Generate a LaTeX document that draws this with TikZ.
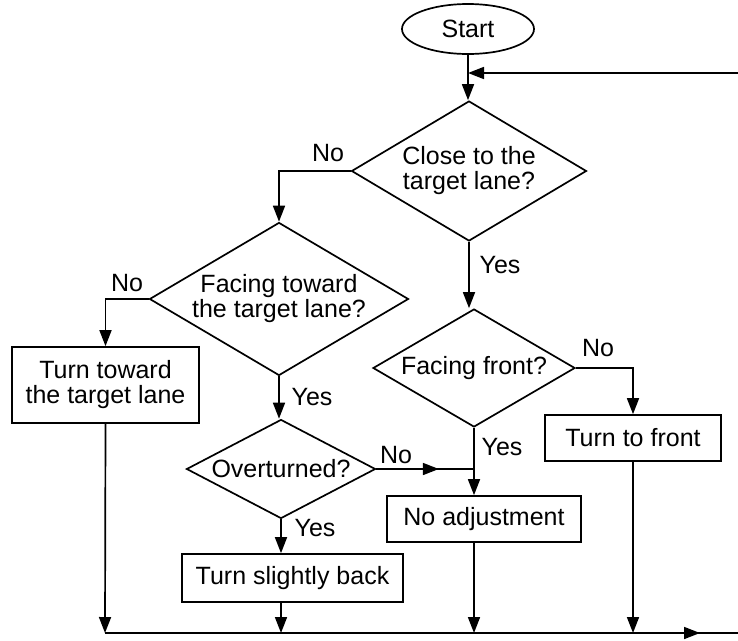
\documentclass[tikz,border=0pt]{standalone}
\usepackage{fontspec}
\setmainfont{Liberation Sans}
\usetikzlibrary{shapes.geometric,arrows.meta,calc}
\begin{document}
\begin{tikzpicture}[x=1pt,y=-1pt,
  every node/.style={font=\fontsize{25}{25}\selectfont},
  flow/.style={line width=1.7pt},
  arr/.style={flow,-{Triangle[length=16pt,width=12pt]}},
  decision/.style={draw,line width=1.7pt,diamond,inner sep=0pt,align=center},
  process/.style={draw,line width=1.7pt,rectangle,inner sep=0pt,align=center},
  terminal/.style={draw,line width=1.7pt,ellipse,inner sep=0pt},
  lbl/.style={inner sep=0pt}]
\useasboundingbox (0,0) rectangle (738,640);

% blocks
\node[terminal,minimum width=132pt,minimum height=50pt] (start) at (468,29) {Start};
\node[decision,aspect=1.68,minimum width=235pt,minimum height=140pt] (d1) at (469,171) {Close to the\\target lane?};
\node[decision,aspect=1.69,minimum width=259pt,minimum height=153pt] (d2) at (279,299) {Facing toward\\the target lane?};
\node[process,minimum width=187pt,minimum height=76pt] (turnlane) at (105.5,385) {Turn toward\\the target lane};
\node[decision,aspect=1.71,minimum width=202pt,minimum height=118pt] (d3) at (474,368) {Facing front?};
\node[process,minimum width=176pt,minimum height=46pt] (front) at (633,438) {Turn to front};
\node[decision,aspect=1.91,minimum width=189pt,minimum height=99pt] (d4) at (281,469) {Overturned?};
\node[process,minimum width=194pt,minimum height=46pt] (noadj) at (484,519) {No adjustment};
\node[process,minimum width=221pt,minimum height=48pt] (back) at (292.5,578) {Turn slightly back};

% helper points
\coordinate (loop) at (738,73);
\coordinate (bl) at (105,633);
\coordinate (br) at (738,633);
\coordinate (btip) at (700,633);
\coordinate (join) at (d3.south |- d4.east);
\coordinate (mid4) at ($(d4.east)!0.64!(join)$);

% connectors
\draw[arr] (start) -- (start |- d1.north);
\draw[arr] (loop) -- (loop -| start);
\draw[arr] (d1.west) -| (d2.north);
\draw[arr] (d2.west) -| (turnlane.north);
\draw[arr] (turnlane.south) -- (bl);
\draw[arr] (d2.south) -- (d2.south |- d4.north);
\draw[arr] (d4.south) -- (d4.south |- back.north);
\draw[arr] (back.south -| d4.south) -- (d4.south |- bl);
\draw[arr] (d1.south) -- (d1.south |- d3.north);
\draw[arr] (d3.east) -| (front.north);
\draw[arr] (front.south) -- (front.south |- bl);
\draw[arr] (d3.south) -- (d3.south |- noadj.north);
\draw[flow] (d4.east) -- (join);
\draw[arr] (d4.east) -- (mid4);
\draw[arr] (noadj.south -| d3.south) -- (d3.south |- bl);
\draw[flow] (bl) -- (br);
\draw[arr] (bl) -- (btip);

% branch labels
\node[lbl] (n1) at (328,153) {No};
\node[lbl] (y1) at (500,265) {Yes};
\node[lbl] (n2) at (127,283) {No};
\node[lbl] (y2) at (312,397) {Yes};
\node[lbl] (n3) at (598,348) {No};
\node[lbl] (y3) at (502,447) {Yes};
\node[lbl] (n4) at (396,455) {No};
\node[lbl] (y4) at (315,528) {Yes};
\end{tikzpicture}
\end{document}
